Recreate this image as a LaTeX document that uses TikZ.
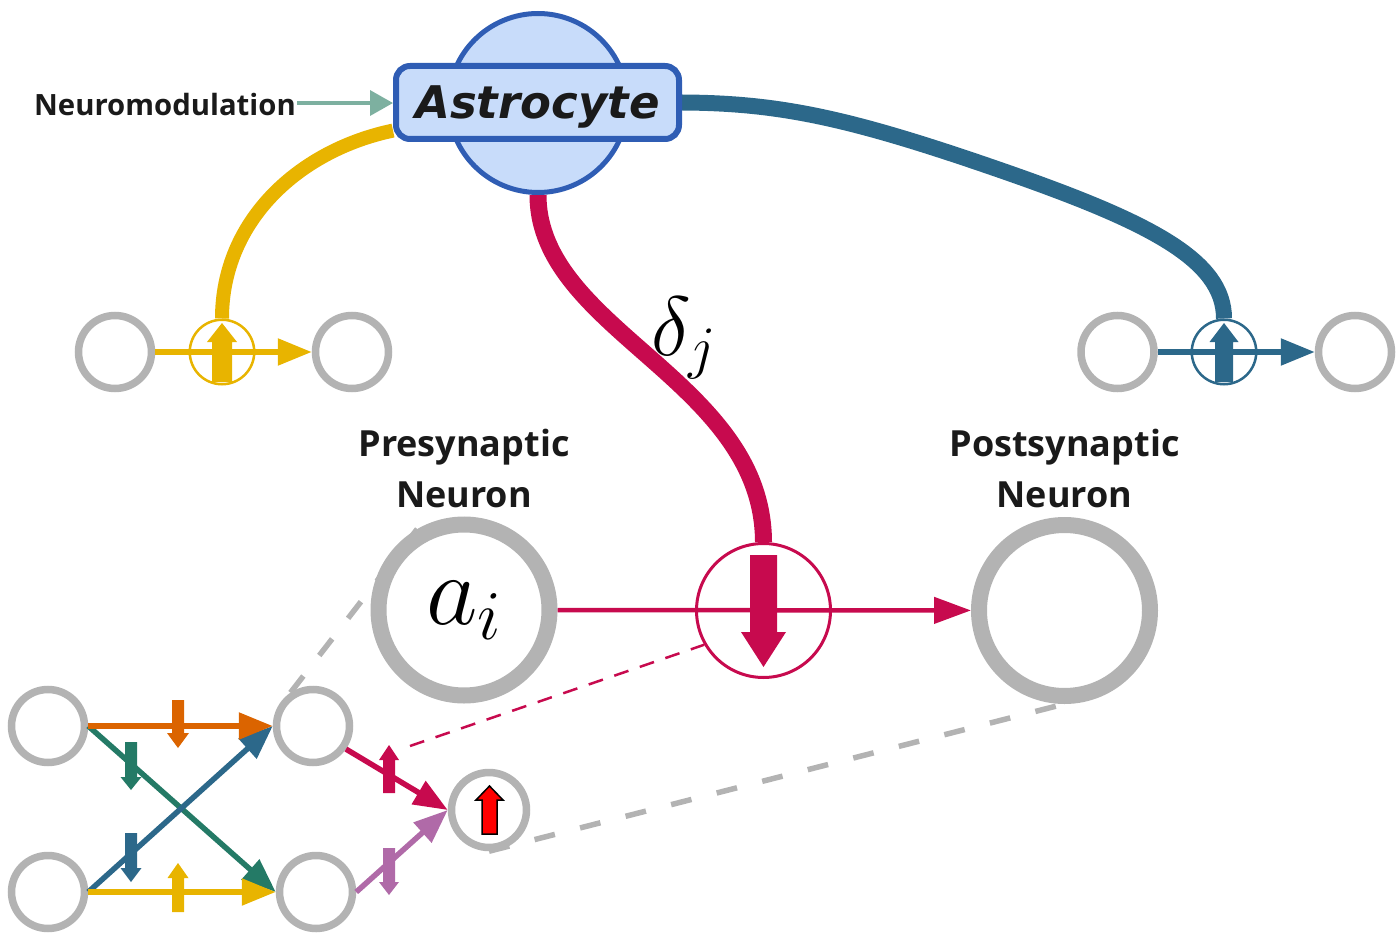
\RequirePackage{fix-cm}
\documentclass[tikz,border=0pt]{standalone}
\usepackage{fontspec}
\newfontfamily\labfont{Open Sans}
\newfontfamily\astrofont{DejaVu Sans}
\usetikzlibrary{arrows.meta,calc}
\definecolor{ycol}{HTML}{E8B400}
\definecolor{bcol}{HTML}{2C688A}
\definecolor{mcol}{HTML}{C70A4E}
\definecolor{ocol}{HTML}{DB6400}
\definecolor{gcol}{HTML}{247A66}
\definecolor{pcol}{HTML}{B06AA8}
\definecolor{ncol}{HTML}{7DB0A0}
\definecolor{cgray}{HTML}{B3B3B3}
\definecolor{astroF}{HTML}{C8DCFA}
\definecolor{astroB}{HTML}{2F5DB4}
\definecolor{txtcol}{HTML}{1A1A1A}
\newcommand{\vblk}[7]{\fill[#1] (#2-#6,#3) -- (#2-#6,#4) -- (#2-#7,#4) -- (#2,#5) -- (#2+#7,#4) -- (#2+#6,#4) -- (#2+#6,#3) -- cycle;}
\pgfdeclarelayer{bg}
\pgfsetlayers{bg,main}
\begin{document}
\begin{tikzpicture}[x=1pt,y=-1pt,
  graynode/.style={circle, draw=cgray, line width=7.5pt, minimum size=73pt, inner sep=0pt, fill=white},
  bignode/.style={circle, draw=cgray, line width=16pt, minimum size=171pt, inner sep=0pt, fill=white},
  synring/.style={circle, line width=2.5pt, minimum size=64.5pt, inner sep=0pt},
  conn/.style={line width=5.5pt, -{Triangle[length=34pt,width=26pt]}},
  thin conn/.style={line width=4.5pt, -{Triangle[length=37pt,width=26pt]}},
  label/.style={font=\labfont\bfseries\fontsize{36}{51}\selectfont, text=txtcol, align=center, inner sep=0pt},
  graydash/.style={draw=cgray, line width=5.5pt, dash pattern=on 21pt off 26pt},
]
\useasboundingbox (0,0) rectangle (1400,941);

% Astrocyte
\node[circle, draw=astroB, fill=astroF, line width=5pt, minimum size=179pt, inner sep=0pt] (astrocirc) at (538,103) {};
\node[draw=astroB, fill=astroF, line width=6pt, rounded corners=14pt, minimum width=283pt, minimum height=73pt, inner sep=0pt, text depth=0pt, text=txtcol,
      font=\astrofont\bfseries\itshape\fontsize{45}{45}\selectfont] (astro) at (537.5,102.5) {Astrocyte};

% Neuromodulation
\node[font=\labfont\bfseries\fontsize{29.3}{30}\selectfont, text=txtcol, anchor=base east, inner sep=0pt] (nm) at (296,116) {Neuromodulation};
\draw[ncol, line width=3.5pt, -{Triangle[length=23pt,width=25pt]}] (nm.east) ++(1,-2) coordinate (nmS) -- (nmS -| astro.west);

% Upper-left synapse (yellow)
\node[graynode] (yl) at (115,352) {};
\node[graynode] (yr) at (352,352) {};
\node[synring, draw=ycol] (ys) at (222,352) {};
\draw[ycol, conn] (yl) -- (yr);
\vblk{ycol}{222}{382}{342}{323}{10}{15}

% Upper-right synapse (blue)
\node[graynode] (bl) at (1117.5,352) {};
\node[graynode] (br) at (1355,352) {};
\node[synring, draw=bcol] (bs) at (1224,352) {};
\draw[bcol, conn] (bl) -- (br);
\vblk{bcol}{1224}{382}{342}{323}{9}{14.5}

% Main neurons
\node[bignode, font=\fontsize{100}{100}\selectfont] (pre) at (464,610) {$a_i$};
\node[bignode] (post) at (1064.5,610.5) {};
\node[label] at (464,468) {Presynaptic\\Neuron};
\node[label] at (1064.5,468) {Postsynaptic\\Neuron};
\node[circle, draw=mcol, line width=3pt, minimum size=134pt, inner sep=0pt] (syn) at (763.5,610.5) {};
\draw[mcol, thin conn] (pre) -- (post);
\vblk{mcol}{763.5}{555}{632}{667}{13.5}{22.5}

% delta label
\node[font=\fontsize{84}{84}\selectfont, inner sep=0pt] (dl) at (684,338) {$\delta_j$};

% Bottom network
\node[graynode] (n1) at (48,726) {};
\node[graynode] (n2) at (313,726) {};
\node[graynode] (n3) at (48,892) {};
\node[graynode] (n4) at (316,892) {};
\node[graynode, minimum size=75pt] (out) at (489,810) {};

\draw[gcol, conn] (n1.east) -- (n4.west);
\draw[bcol, conn] (n3.east) -- (n2.west);
\draw[ocol, conn] (n1) -- (n2);
\draw[ycol, conn] (n3) -- (n4);
\draw[mcol, conn] (n2.-35) -- (out.west);
\draw[pcol, conn] (n4.east) -- (out.west);

\vblk{ocol}{178}{700}{733}{748}{6}{11}
\vblk{gcol}{131}{742}{777}{790}{6}{10.5}
\vblk{bcol}{131}{833}{868}{882}{6}{10.5}
\vblk{ycol}{178}{912}{878}{863}{6}{10.5}
\vblk{mcol}{389}{793}{760}{745}{6}{10}
\vblk{pcol}{389}{848}{882}{895}{6}{10}
\filldraw[fill=red, draw=black, line width=1.5pt] (482,834) -- (482,800) -- (476,800) -- (489.5,786) -- (503,800) -- (497,800) -- (497,834) -- cycle;

% Background layer: curves and dashed lines
\begin{pgfonlayer}{bg}
\draw[ycol, line width=14pt] (astro.191) .. controls (300,150) and (222,220) .. (ys.north);
\draw[bcol, line width=16pt] (astro.east) .. controls (780,103) and (850,118) .. (1000,170)
      .. controls (1150,222) and (1224,260) .. (bs.north);
\draw[mcol, line width=17pt] (astrocirc.south) .. controls (538,330) and (763,380) .. (syn.north);
\coordinate (mdend) at (410,746);
\draw[mcol, line width=2.5pt, dash pattern=on 15pt off 12pt] (mdend) -- (syn.210);
\draw[graydash] (n2.124) -- (pre.120);
\draw[graydash] (out.south) -- (post.south);
\end{pgfonlayer}
\end{tikzpicture}
\end{document}
